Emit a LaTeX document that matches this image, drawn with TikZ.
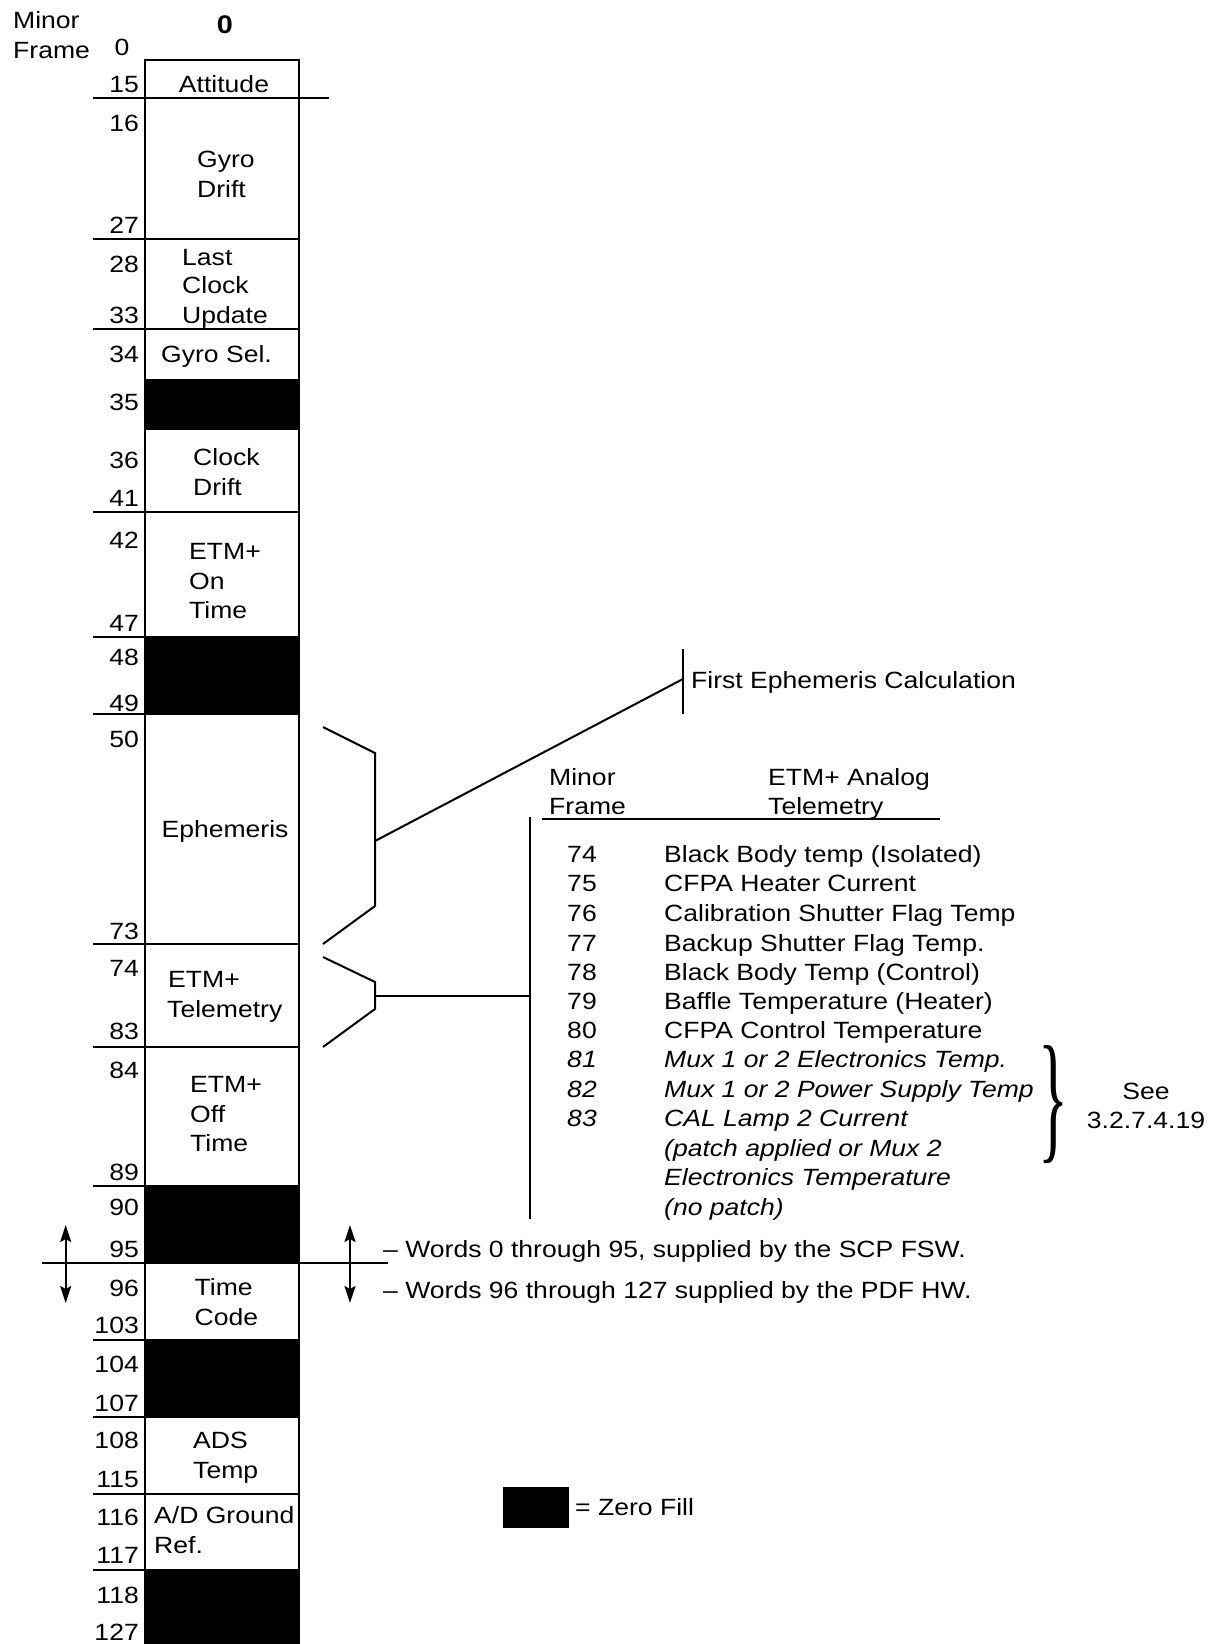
\documentclass[tikz,border=0pt]{standalone}
\usepackage{fontspec}
\usepackage{graphicx}
\setmainfont[FakeStretch=1.13]{Liberation Sans}
\newfontfamily\bracefont{Liberation Serif}
\usetikzlibrary{arrows.meta}
\newcommand\myfs{\fontsize{23.5}{29.5}\selectfont}
\begin{document}
\begin{tikzpicture}[x=1pt,y=-1pt,
  txt/.style={inner sep=0pt,font=\myfs},
  num/.style={txt,anchor=base east},
  lt/.style={txt,anchor=base west},
  ct/.style={txt,anchor=base},
  ln/.style={line width=2pt},
  zerofill/.style={fill=black},
  dbl/.style={line width=2pt,{Stealth[length=17pt,width=11pt,inset=3pt]}-{Stealth[length=17pt,width=11pt,inset=3pt]}}
]
\useasboundingbox (0,0) rectangle (1212,1644);

% zero-filled words
\fill[zerofill] (145,379.3) rectangle (299,430);
\fill[zerofill] (145,637.3) rectangle (299,714.3);
\fill[zerofill] (145,1186) rectangle (299,1262.7);
\fill[zerofill] (145,1340) rectangle (299,1417);
\fill[zerofill] (145,1570) rectangle (299,1644);

% frame column
\draw[ln] (145,1644) -- (145,60) -- (299,60) -- (299,1644);
\draw[ln] (93,98.3) -- (329,98.3);
\foreach \y in {239.3,329.3,511.7,637.3,714.3,944,1046.7,1186,1340,1417,1494,1570}
  \draw[ln] (93,\y) -- (299,\y);
\draw[ln] (42,1262.7) -- (388,1262.7);

% headings
\node[lt] (hminor) at (13,28.3) {Minor};
\node[lt] (hframe) at (13,58.3) {Frame};
\node[ct,font=\fontsize{25.5}{30}\selectfont\bfseries] (hzero) at (225,33) {0};
\node[ct] (mf0) at (122,55) {0};

% word numbers
\foreach \t/\y in {15/92.7,16/131.7,27/233,28/272,33/323,34/362,35/410,36/468,41/506,42/548,47/631,48/665,49/711,50/747,73/939,74/976,83/1039,84/1078,89/1180,90/1215,95/1257,96/1296,103/1333,104/1372,107/1411,108/1448,115/1487,116/1525,117/1563,118/1603,127/1640}
  \node[num] (n\t) at (139,\y) {\t};

% field labels
\node[ct] (att) at (224,92) {Attitude};
\node[lt] (gd1) at (197,167) {Gyro};
\node[lt] (gd2) at (197,197) {Drift};
\node[lt] (lc1) at (182,265) {Last};
\node[lt] (lc2) at (182,293) {Clock};
\node[lt] (lc3) at (182,323) {Update};
\node[lt] (gs) at (161,362) {Gyro Sel.};
\node[lt] (cd1) at (193,465) {Clock};
\node[lt] (cd2) at (193,495) {Drift};
\node[lt] (on1) at (189,559) {ETM+};
\node[lt] (on2) at (189,589) {On};
\node[lt] (on3) at (189,618) {Time};
\node[ct] (eph) at (225,837) {Ephemeris};
\node[lt] (tl1) at (168,987) {ETM+};
\node[lt] (tl2) at (167,1017) {Telemetry};
\node[lt] (of1) at (190,1092) {ETM+};
\node[lt] (of2) at (190,1122) {Off};
\node[lt] (of3) at (190,1151) {Time};
\node[lt] (tc1) at (194.5,1295) {Time};
\node[lt] (tc2) at (194.5,1325) {Code};
\node[lt] (ad1) at (193,1448) {ADS};
\node[lt] (ad2) at (193,1478) {Temp};
\node[lt] (gr1) at (154,1523) {A/D Ground};
\node[lt] (gr2) at (154,1553) {Ref.};

% ephemeris bracket and callout
\coordinate (e1) at (323,727);
\coordinate (e2) at (375,753);
\coordinate (e3) at (375,906);
\coordinate (e4) at (323,944);
\coordinate (emid) at (375,841);
\coordinate (tkt) at (683,649);
\coordinate (tkb) at (683,714);
\coordinate (tkm) at (683,679);
\draw[ln] (e1) -- (e2) -- (e3) -- (e4);
\draw[ln] (emid) -- (tkm);
\draw[ln] (tkt) -- (tkb);
\node[lt] (fec) at (691,688) {First Ephemeris Calculation};

% telemetry bracket and table
\coordinate (t1) at (323,957);
\coordinate (t2) at (375,982);
\coordinate (t3) at (375,1009);
\coordinate (t4) at (323,1047);
\coordinate (tmid) at (375,996);
\coordinate (vt) at (530,817);
\coordinate (vb) at (530,1219);
\coordinate (vm) at (530,996);
\draw[ln] (t1) -- (t2) -- (t3) -- (t4);
\draw[ln] (tmid) -- (vm);
\draw[ln] (vt) -- (vb);

\node[lt] (th1) at (549,785) {Minor};
\node[lt] (th2) at (549,814) {Frame};
\node[lt] (th3) at (768,785) {ETM+ Analog};
\node[lt] (th4) at (768,814) {Telemetry};
\coordinate (ul1) at (542,819);
\coordinate (ul2) at (940,819);
\draw[ln] (ul1) -- (ul2);

\foreach \n/\y/\t in {74/862/{Black Body temp (Isolated)},75/891.5/{CFPA Heater Current},76/921/{Calibration Shutter Flag Temp},77/951/{Backup Shutter Flag Temp.},78/980/{Black Body Temp (Control)},79/1009/{Baffle Temperature (Heater)},80/1038/{CFPA Control Temperature}}{
  \node[ct] (rn\n) at (582,\y) {\n};
  \node[lt] (rt\n) at (664,\y) {\t};
}
\foreach \n/\y/\t in {81/1067/{Mux 1 or 2 Electronics Temp.},82/1097/{Mux 1 or 2 Power Supply Temp},83/1126.5/{CAL Lamp 2 Current}}{
  \node[ct,font=\myfs\itshape] (rn\n) at (582,\y) {\n};
  \node[lt,font=\myfs\itshape] (rt\n) at (664,\y) {\t};
}
\node[lt,font=\myfs\itshape] (rx1) at (664,1156) {(patch applied or Mux 2};
\node[lt,font=\myfs\itshape] (rx2) at (664,1185.5) {Electronics Temperature};
\node[lt,font=\myfs\itshape] (rx3) at (664,1215) {(no patch)};

\node[inner sep=0pt,anchor=west] (brace) at (1038,1104.5) {\resizebox*{30pt}{118pt}{\bracefont\}}};
\node[ct] (see1) at (1146,1099) {See};
\node[ct] (see2) at (1146,1128) {3.2.7.4.19};

% source arrows
\coordinate (la1) at (65.7,1225);
\coordinate (la2) at (65.7,1303);
\coordinate (ra1) at (350,1225);
\coordinate (ra2) at (350,1303);
\draw[dbl] (la1) -- (la2);
\draw[dbl] (ra1) -- (ra2);
\node[lt] (w1) at (383,1257) {– Words 0 through 95, supplied by the SCP FSW.};
\node[lt] (w2) at (383,1298) {– Words 96 through 127 supplied by the PDF HW.};

% legend
\fill[zerofill] (503,1487) rectangle (569,1527.5);
\node[lt] (zf) at (575,1515) {= Zero Fill};
\end{tikzpicture}
\end{document}
